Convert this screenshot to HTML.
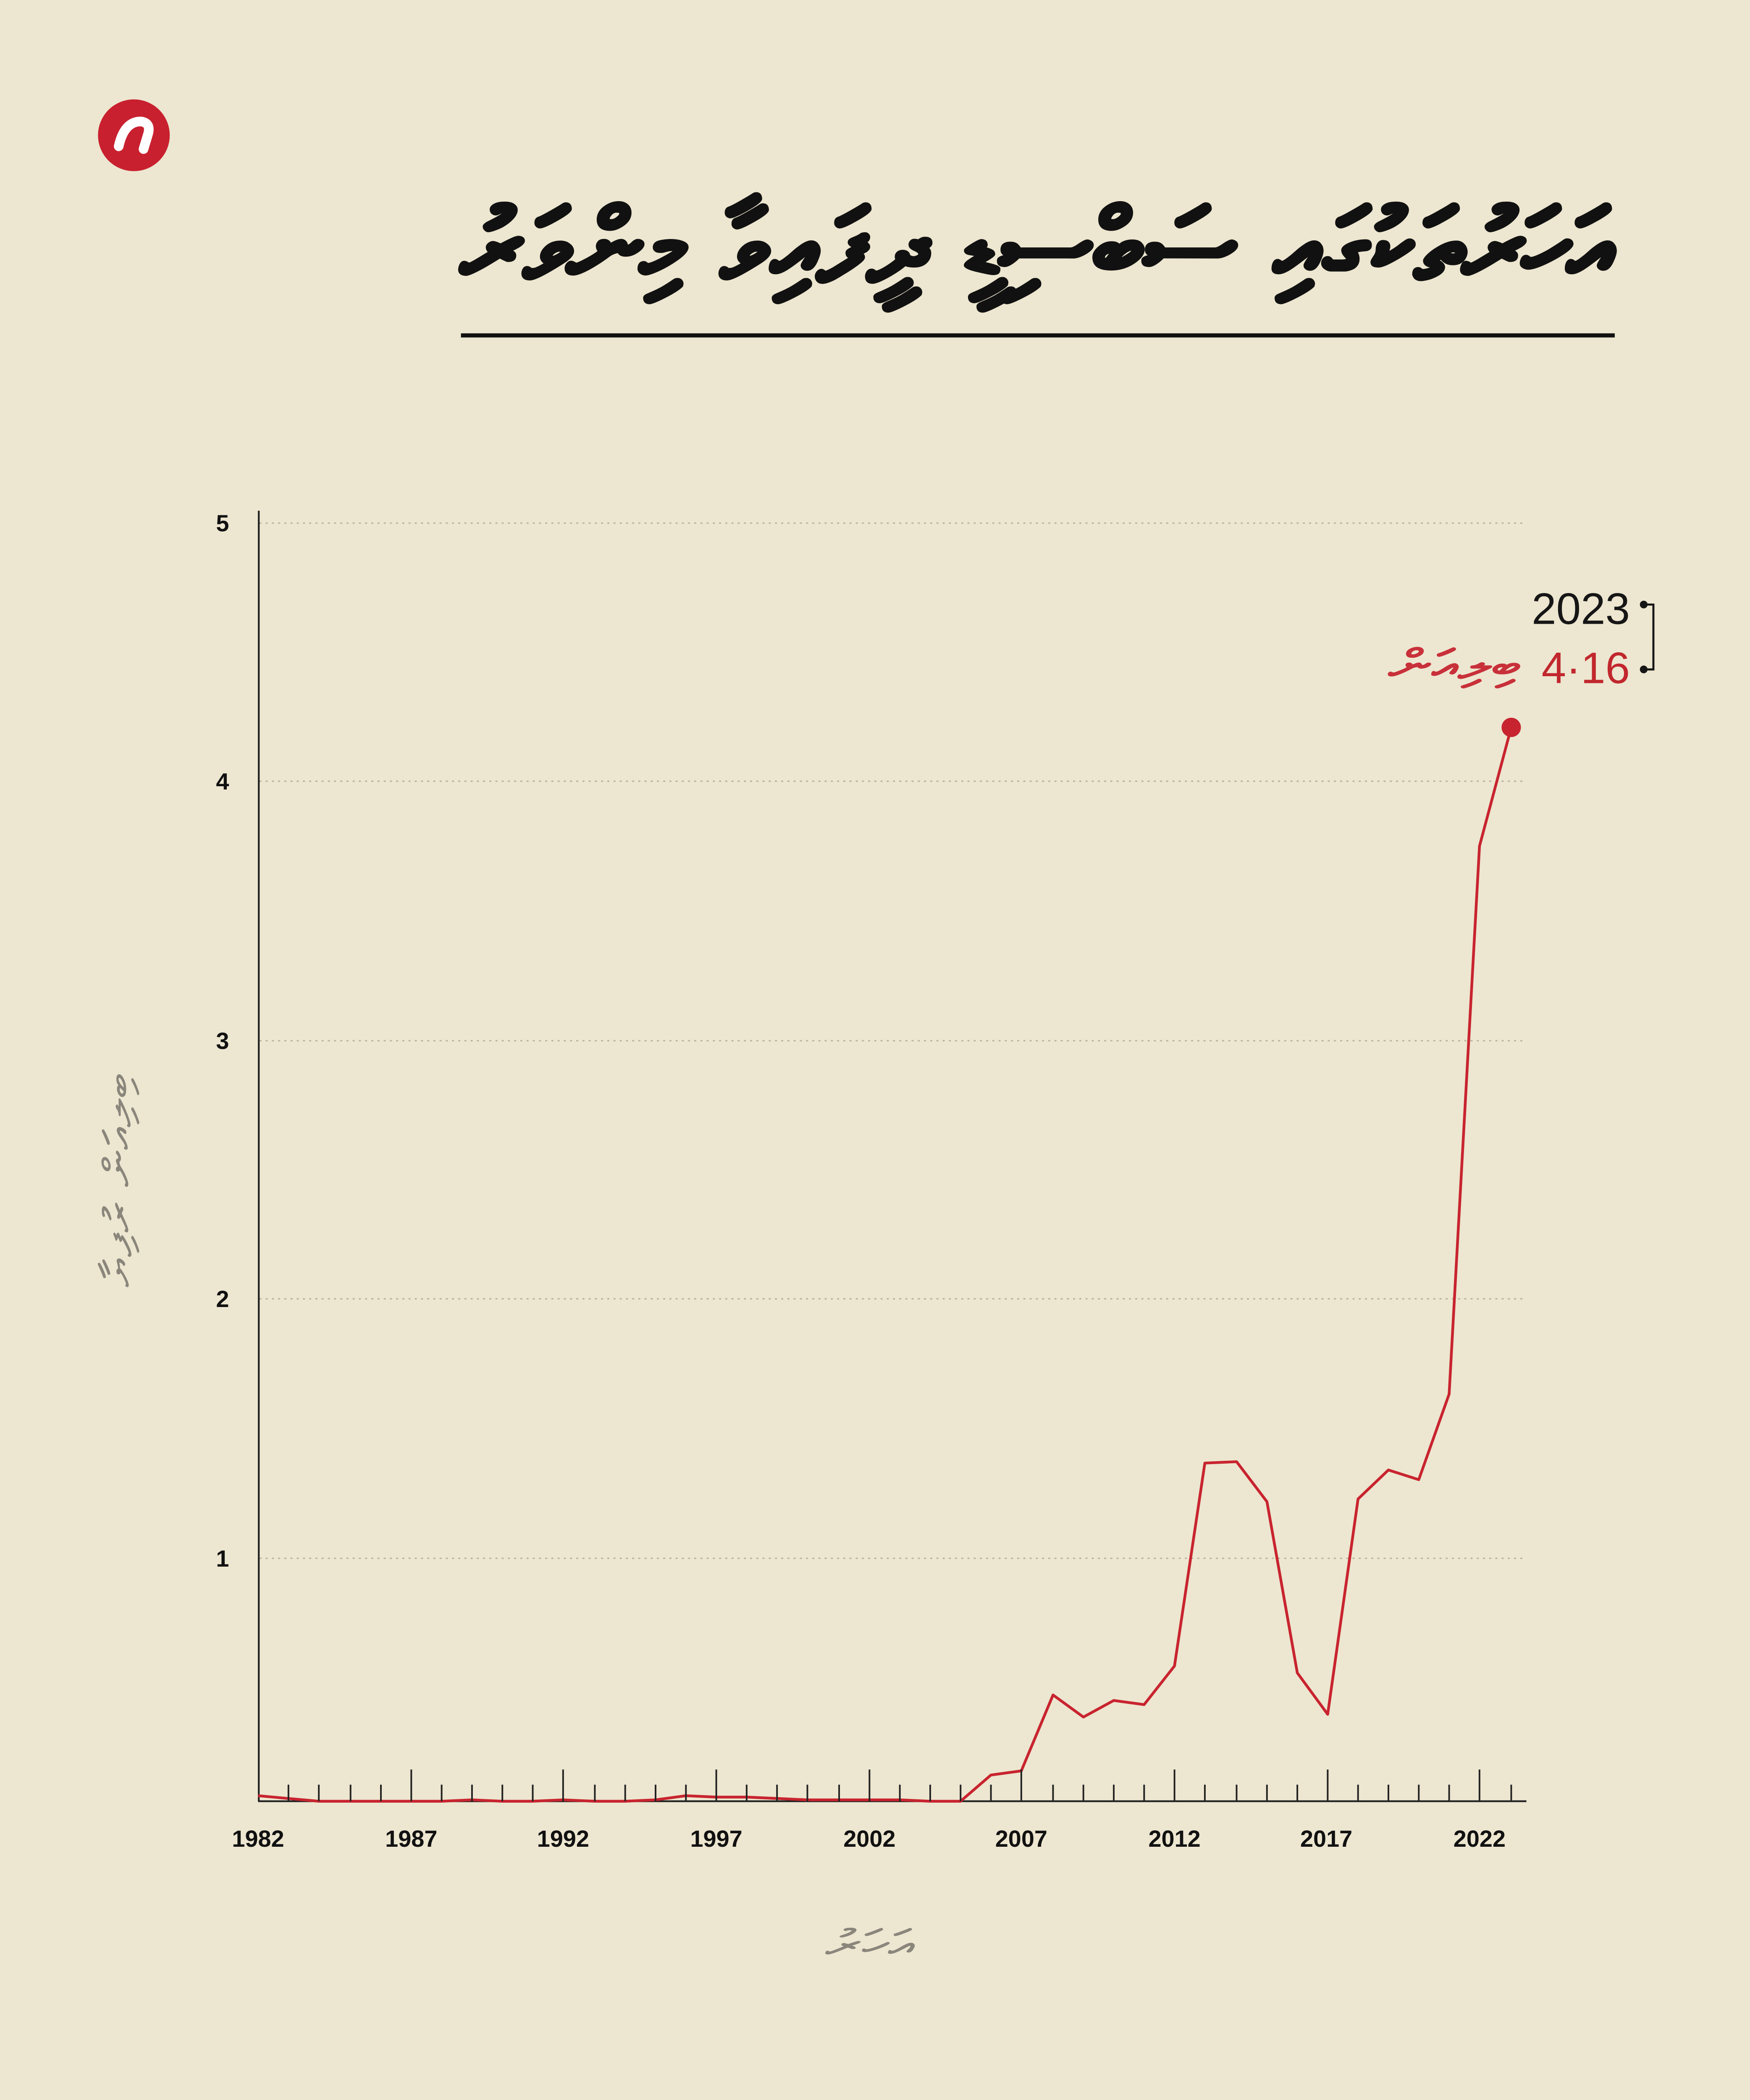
<!DOCTYPE html>
<html><head><meta charset="utf-8"><style>
html,body{margin:0;padding:0;background:#ede6d0;width:4167px;height:5151px;overflow:hidden;}
svg{display:block;position:absolute;left:0;top:0}
</style></head><body>
<svg width="4167" height="5151" viewBox="0 0 1268 1567.4" preserveAspectRatio="none" xmlns="http://www.w3.org/2000/svg">
<rect width="1268" height="1568" fill="#ede6d0"/>
<circle cx="97" cy="98" r="26" fill="#c8202f"/>
<path d="M86 106 Q90 88 102 88 Q110 89 107 98 L104 108" fill="none" stroke="#fff" stroke-width="7" stroke-linecap="round"/>
<text x="1168" y="203" text-anchor="start" direction="rtl" textLength="834" lengthAdjust="spacingAndGlyphs" font-family="'DejaVu Sans','Liberation Sans',sans-serif" font-weight="bold" font-size="72" fill="#111" stroke="#111" stroke-width="1.6">އަހަރުތަކުގައި ސަބްސިޑީ ދީފައިވާ މިންވަރު</text>
<rect x="334" y="241.5" width="836" height="3" fill="#111"/>
<g stroke="#bbb3a0" stroke-width="1" stroke-dasharray="1.5 3">
<line x1="188" y1="379" x2="1105" y2="379"/>
<line x1="188" y1="566" x2="1105" y2="566"/>
<line x1="188" y1="754" x2="1105" y2="754"/>
<line x1="188" y1="941" x2="1105" y2="941"/>
<line x1="188" y1="1129" x2="1105" y2="1129"/>
</g>
<line x1="187.5" y1="370" x2="187.5" y2="1305" stroke="#222" stroke-width="1.3"/>
<line x1="187" y1="1305" x2="1106" y2="1305" stroke="#222" stroke-width="1.3"/>
<g font-family="'Liberation Sans',sans-serif" font-weight="bold" font-size="17" fill="#111" text-anchor="end">
<text x="166" y="385">5</text><text x="166" y="572">4</text><text x="166" y="760">3</text><text x="166" y="947">2</text><text x="166" y="1135">1</text>
</g>
<g font-family="'Liberation Sans',sans-serif" font-weight="bold" font-size="17" fill="#111" text-anchor="middle">
<text x="187" y="1338">1982</text><text x="298" y="1338">1987</text><text x="408" y="1338">1992</text><text x="519" y="1338">1997</text><text x="630" y="1338">2002</text><text x="740" y="1338">2007</text><text x="851" y="1338">2012</text><text x="961" y="1338">2017</text><text x="1072" y="1338">2022</text>
</g>
<text transform="translate(95,855) rotate(-90)" text-anchor="middle" direction="rtl" textLength="155" lengthAdjust="spacingAndGlyphs" font-family="'DejaVu Sans',sans-serif" font-size="28" fill="#8a867c">ބިލިއަން ރުފިޔާ</text>
<text x="630" y="1418" text-anchor="middle" direction="rtl" textLength="64" lengthAdjust="spacingAndGlyphs" font-family="'DejaVu Sans',sans-serif" font-size="28" fill="#8a867c">އަހަރު</text>
<polyline fill="none" stroke="#c8242f" stroke-width="2" stroke-linejoin="round" points="
187,1301 209,1303 231,1305 254,1305 276,1305 298,1305 320,1305 342,1304 364,1305 386,1305 408,1304 431,1305 453,1305 475,1304 497,1301 519,1302 541,1302 563,1303 585,1304 608,1304 630,1304 652,1304 674,1305 696,1305 718,1286 740,1283 763,1228 785,1244 807,1232 829,1235 851,1207 873,1060 896,1059 918,1088 940,1212 962,1242 984,1086 1006,1065 1028,1072 1050,1010 1072,613 1095,527"/>
<circle cx="1095" cy="527" r="7" fill="#c8242f"/>
<text x="1181" y="452" text-anchor="end" font-family="'Liberation Sans',sans-serif" font-size="32" fill="#161616">2023</text>
<text x="1181" y="495" text-anchor="end" font-family="'Liberation Sans',sans-serif" font-size="32" fill="#c1272d">4·16</text>
<text x="1102" y="492" text-anchor="start" direction="rtl" textLength="96" lengthAdjust="spacingAndGlyphs" font-family="'DejaVu Sans',sans-serif" font-size="30" fill="#c8303a" stroke="#c8303a" stroke-width="0.6">ބިލިއަން</text>
<circle cx="1191" cy="438" r="2.8" fill="#161616"/><circle cx="1191" cy="485" r="2.8" fill="#161616"/>
<polyline points="1191,438 1198,438 1198,485 1191,485" fill="none" stroke="#161616" stroke-width="1.5"/>
<g stroke="#222" stroke-width="1.2">
<line x1="209" y1="1293" x2="209" y2="1305"/><line x1="231" y1="1293" x2="231" y2="1305"/><line x1="254" y1="1293" x2="254" y2="1305"/><line x1="276" y1="1293" x2="276" y2="1305"/><line x1="298" y1="1282" x2="298" y2="1305"/><line x1="320" y1="1293" x2="320" y2="1305"/><line x1="342" y1="1293" x2="342" y2="1305"/><line x1="364" y1="1293" x2="364" y2="1305"/><line x1="386" y1="1293" x2="386" y2="1305"/><line x1="408" y1="1282" x2="408" y2="1305"/><line x1="431" y1="1293" x2="431" y2="1305"/><line x1="453" y1="1293" x2="453" y2="1305"/><line x1="475" y1="1293" x2="475" y2="1305"/><line x1="497" y1="1293" x2="497" y2="1305"/><line x1="519" y1="1282" x2="519" y2="1305"/><line x1="541" y1="1293" x2="541" y2="1305"/><line x1="563" y1="1293" x2="563" y2="1305"/><line x1="585" y1="1293" x2="585" y2="1305"/><line x1="608" y1="1293" x2="608" y2="1305"/><line x1="630" y1="1282" x2="630" y2="1305"/><line x1="652" y1="1293" x2="652" y2="1305"/><line x1="674" y1="1293" x2="674" y2="1305"/><line x1="696" y1="1293" x2="696" y2="1305"/><line x1="718" y1="1293" x2="718" y2="1305"/><line x1="740" y1="1282" x2="740" y2="1305"/><line x1="763" y1="1293" x2="763" y2="1305"/><line x1="785" y1="1293" x2="785" y2="1305"/><line x1="807" y1="1293" x2="807" y2="1305"/><line x1="829" y1="1293" x2="829" y2="1305"/><line x1="851" y1="1282" x2="851" y2="1305"/><line x1="873" y1="1293" x2="873" y2="1305"/><line x1="896" y1="1293" x2="896" y2="1305"/><line x1="918" y1="1293" x2="918" y2="1305"/><line x1="940" y1="1293" x2="940" y2="1305"/><line x1="962" y1="1282" x2="962" y2="1305"/><line x1="984" y1="1293" x2="984" y2="1305"/><line x1="1006" y1="1293" x2="1006" y2="1305"/><line x1="1028" y1="1293" x2="1028" y2="1305"/><line x1="1050" y1="1293" x2="1050" y2="1305"/><line x1="1072" y1="1282" x2="1072" y2="1305"/><line x1="1095" y1="1293" x2="1095" y2="1305"/>
</g>
</svg>
</body></html>
